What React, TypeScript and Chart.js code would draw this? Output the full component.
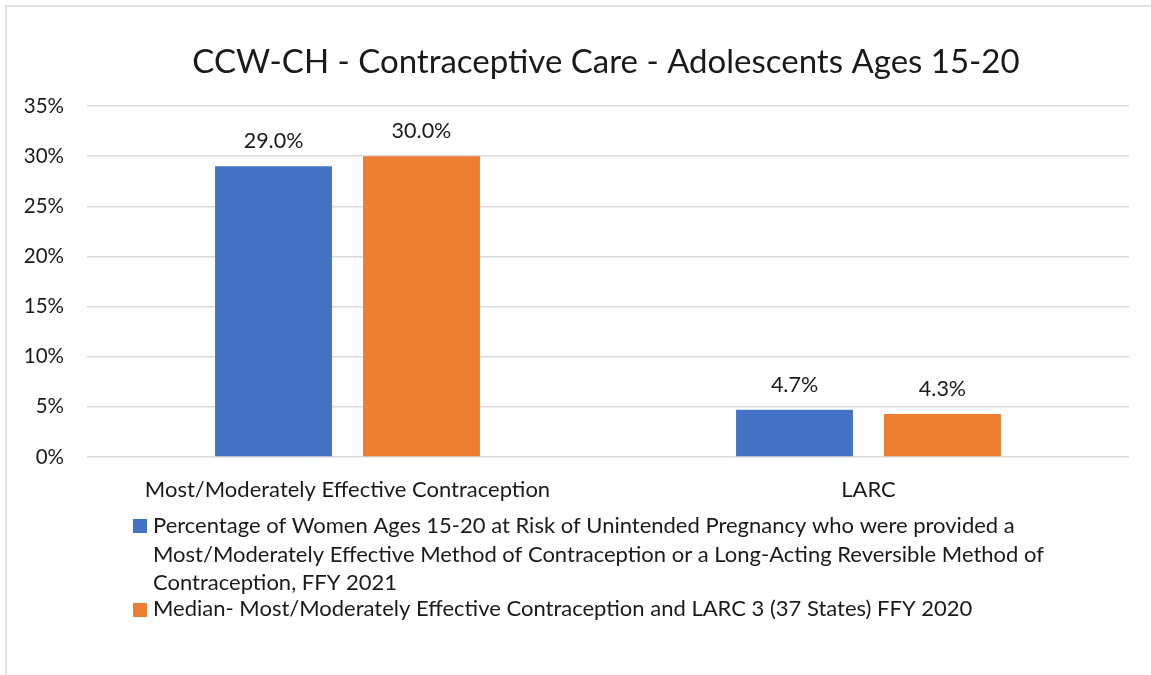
import React, { useEffect, useRef } from 'react';
import { Chart, registerables } from 'chart.js';

Chart.register(...registerables);

const titleText = 'CCW-CH - Contraceptive Care - Adolescents Ages 15-20';
const categories = ['Most/Moderately Effective Contraception', 'LARC'];
const stateValues = [29.0, 4.7];
const medianValues = [30.0, 4.3];
const yMax = 35;
const yStep = 5;
const series1Label =
  'Percentage of Women Ages 15-20 at Risk of Unintended Pregnancy who were provided a Most/Moderately Effective Method of Contraception or a Long-Acting Reversible Method of Contraception, FFY 2021';
const series1LegendLines = [
  'Percentage of Women Ages 15-20 at Risk of Unintended Pregnancy who were provided a',
  'Most/Moderately Effective Method of Contraception or a Long-Acting Reversible Method of',
  'Contraception, FFY 2021',
];
const series2Label = 'Median- Most/Moderately Effective Contraception and LARC 3 (37 States) FFY 2020';
const series2LegendLines = [series2Label];

const BLUE = '#4472C4';
const ORANGE = '#ED7D31';
const TEXT = '#1a1a1a';
const GRID = '#d9d9d9';
const FONT = 'Lato';

const framePlugin = {
  id: 'frame',
  beforeDraw(chart: any) {
    const ctx = chart.ctx;
    ctx.save();
    ctx.fillStyle = '#ffffff';
    ctx.fillRect(0, 0, chart.width, chart.height);
    ctx.strokeStyle = GRID;
    ctx.lineWidth = 1.5;
    ctx.beginPath();
    ctx.moveTo(6, chart.height);
    ctx.lineTo(6, 6);
    ctx.lineTo(chart.width, 6);
    ctx.stroke();
    ctx.restore();
  },
};

const titlePlugin = {
  id: 'customTitle',
  afterDraw(chart: any) {
    const ctx = chart.ctx;
    ctx.save();
    ctx.fillStyle = TEXT;
    ctx.font = `33px ${FONT}`;
    ctx.textAlign = 'center';
    ctx.textBaseline = 'alphabetic';
    ctx.fillText(titleText, 606, 73);
    ctx.restore();
  },
};

const dataLabelPlugin = {
  id: 'dataLabels',
  afterDatasetsDraw(chart: any) {
    const ctx = chart.ctx;
    ctx.save();
    ctx.fillStyle = TEXT;
    ctx.font = `21.5px ${FONT}`;
    ctx.textAlign = 'center';
    ctx.textBaseline = 'alphabetic';
    chart.data.datasets.forEach((ds: any, di: number) => {
      const meta = chart.getDatasetMeta(di);
      meta.data.forEach((bar: any, i: number) => {
        const v = ds.data[i];
        ctx.fillText(v.toFixed(1) + '%', bar.x, bar.y - 18);
      });
    });
    ctx.restore();
  },
};

const legendPlugin = {
  id: 'customLegend',
  afterDraw(chart: any) {
    const ctx = chart.ctx;
    ctx.save();
    ctx.font = `22px ${FONT}`;
    ctx.textAlign = 'left';
    ctx.textBaseline = 'alphabetic';
    const items = [
      { color: BLUE, lines: series1LegendLines, boxY: 519, baseY: 533 },
      { color: ORANGE, lines: series2LegendLines, boxY: 603, baseY: 616 },
    ];
    items.forEach((it) => {
      ctx.fillStyle = it.color;
      ctx.fillRect(133, it.boxY, 14, 14);
      ctx.fillStyle = TEXT;
      it.lines.forEach((line, li) => {
        ctx.fillText(line, 153, it.baseY + li * 28.5);
      });
    });
    ctx.restore();
  },
};

export default function App() {
  const ref = useRef<HTMLCanvasElement | null>(null);

  useEffect(() => {
    document.body.style.margin = '0';
    const canvas = ref.current;
    if (!canvas) return;
    const chart = new Chart(canvas, {
      type: 'bar',
      data: {
        labels: categories,
        datasets: [
          {
            label: series1Label,
            data: stateValues,
            backgroundColor: BLUE,
            categoryPercentage: 0.568,
            barPercentage: 0.79,
          },
          {
            label: series2Label,
            data: medianValues,
            backgroundColor: ORANGE,
            categoryPercentage: 0.568,
            barPercentage: 0.79,
          },
        ],
      },
      options: {
        animation: false,
        responsive: false,
        devicePixelRatio: 1,
        layout: { padding: { left: 0, top: 106, right: 22, bottom: 0 } },
        plugins: {
          legend: { display: false },
          title: { display: false },
          tooltip: { enabled: false },
        },
        scales: {
          x: {
            grid: { display: false, drawTicks: false },
            border: { display: false },
            ticks: {
              color: TEXT,
              font: { family: FONT, size: 22 },
              padding: 20,
              maxRotation: 0,
              autoSkip: false,
            },
            afterFit(scale: any) {
              scale.height = 218;
            },
          },
          y: {
            min: 0,
            max: yMax,
            ticks: {
              stepSize: yStep,
              color: TEXT,
              font: { family: FONT, size: 20.5 },
              padding: 23,
              callback: (v: any) => v + '%',
            },
            grid: { color: GRID, lineWidth: 1.5, drawTicks: false },
            border: { display: false },
            afterFit(scale: any) {
              scale.width = 87;
            },
          },
        },
      },
      plugins: [framePlugin, dataLabelPlugin, titlePlugin, legendPlugin],
    });
    return () => chart.destroy();
  }, []);

  return (
    <div style={{ position: 'absolute', left: 0, top: 0, width: 1151, height: 675 }}>
      <canvas ref={ref} width={1151} height={675} style={{ display: 'block', width: 1151, height: 675 }} />
    </div>
  );
}
